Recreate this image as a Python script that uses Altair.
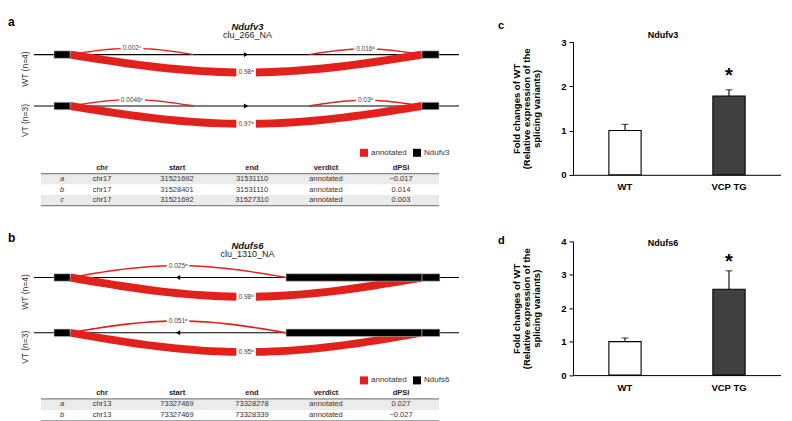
import altair as alt
import numpy as np
import pandas as pd

RED = "#e3211c"
FONT = "Liberation Sans"
SUP = {"a": "\u1d43", "b": "\u1d47", "c": "\u1d9c"}

# ---------------- panel a : Ndufv3 cluster ----------------
a_gene = "Ndufv3"
a_cluster = "clu_266_NA"
a_groups = ["WT (n=4)", "VT (n=3)"]
a_junction = ["a", "b", "c"]
a_chr = ["chr17", "chr17", "chr17"]
a_start = [31521692, 31528401, 31521692]
a_end = [31531110, 31531110, 31527310]
a_verdict = ["annotated", "annotated", "annotated"]
a_dpsi = [-0.017, 0.014, 0.003]
a_psi_wt = [0.98, 0.016, 0.002]
a_psi_vt = [0.97, 0.03, 0.0046]
a_exon_start = [31521610, 31531110]
a_exon_end = [31521692, 31531190]
a_strand = "+"
# intron compression used for display (genomic -> fraction of track width)
a_knots_g = [31521540, 31521610, 31521692, 31527310, 31528401, 31531110, 31531190, 31531260]
a_knots_d = [0.0, 0.047, 0.085, 0.376, 0.647, 0.913, 0.953, 1.0]

# ---------------- panel b : Ndufs6 cluster ----------------
b_gene = "Ndufs6"
b_cluster = "clu_1310_NA"
b_groups = ["WT (n=4)", "VT (n=3)"]
b_junction = ["a", "b"]
b_chr = ["chr13", "chr13"]
b_start = [73327469, 73327469]
b_end = [73328278, 73328339]
b_verdict = ["annotated", "annotated"]
b_dpsi = [0.027, -0.027]
b_psi_wt = [0.025, 0.98]
b_psi_vt = [0.051, 0.95]
b_exon_start = [73327390, 73328278, 73328339]
b_exon_end = [73327469, 73328339, 73328420]
b_strand = "-"
b_knots_g = [73327320, 73327390, 73327469, 73328278, 73328339, 73328420, 73328490]
b_knots_d = [0.0, 0.047, 0.085, 0.593, 0.913, 0.955, 1.0]

# ---------------- panels c, d : qPCR bars ----------------
bar_groups = ["WT", "VCP TG"]
c_gene = "Ndufv3"
c_mean = [1.0, 1.78]
c_sem = [0.14, 0.14]
c_star = 2.34
d_gene = "Ndufs6"
d_mean = [1.0, 2.57]
d_sem = [0.11, 0.55]
d_star = 3.54
Y_TITLE = ["Fold changes of WT", "(Relative expression of the", "splicing variants)"]

W_DIAG = 425
TABLE_COLS = ["", "chr", "start", "end", "verdict", "dPSI"]
TABLE_X = [28, 68, 143, 218, 292, 367]
TABLE_L, TABLE_R = 7, 405


def diag(gene, cluster, letter, groups, junction, starts, ends, psis_by_group,
         ex_s, ex_e, strand, kg, kd, ydom, height, letter_y, legend_y, gene_y, clu_y):
    D = lambda g: float(np.interp(g, kg, kd))
    ppu = height / (ydom[1] - ydom[0])
    track_y = [1.0, 0.0]
    yscale = alt.Scale(domain=list(ydom), nice=False, zero=False)
    xscale = alt.Scale(domain=[0, 1], nice=False, zero=False)
    lab_shift = 14.0 / ppu
    yaxis = alt.Axis(values=[1.0 - lab_shift, -lab_shift],
                     labelExpr=f"datum.value > 0.5 ? '{groups[0]}' : '{groups[1]}'",
                     labelAngle=270, labelAlign="center", labelBaseline="bottom",
                     labelFontSize=8.5, labelColor="#333", labelPadding=5,
                     domain=False, ticks=False, grid=False, title=None)

    def X(f):
        return alt.X(f, type="quantitative", scale=xscale, axis=None)

    def Y(f):
        return alt.Y(f, type="quantitative", scale=yscale, axis=yaxis)

    base = pd.DataFrame({"x0": [kd[0]] * 2, "x1": [kd[-1]] * 2, "track": track_y})

    ex_rows = []
    for ty in track_y:
        for s, e in zip(ex_s, ex_e):
            ex_rows.append(dict(x=D(s), x2=D(e), y=ty - 3.7 / ppu, y2=ty + 3.7 / ppu, kind=gene))
    exons = pd.DataFrame(ex_rows)

    arc_rows, lab_rows = [], []
    t = np.linspace(0, 1, 41)
    for ty, psis in zip(track_y, psis_by_group):
        pmax = max(psis)
        for j, s, e, p in zip(junction, starts, ends, psis):
            x0, x1 = D(s), D(e)
            side = -1.0 if p == pmax else 1.0
            h = 0.42 * (x1 - x0)
            xs = x0 + (x1 - x0) * t
            ys = ty + side * h * np.sin(np.pi * t)
            for k, (xx, yy) in enumerate(zip(xs, ys)):
                arc_rows.append(dict(id=f"{ty}-{j}", k=k, x=xx, y=yy, psi=p))
            label = f"{p:g}" + SUP[j]
            lw = (3.1 * len(label) + 4) / W_DIAG / 2
            sw = 1.3 + 6.8 * p
            lh = (max(sw, 5) + 3) / ppu / 2
            lx, ly = (x0 + x1) / 2, ty + side * h
            lab_rows.append(dict(x=lx, y=ly, bx=lx - lw, bx2=lx + lw, by=ly - lh, by2=ly + lh, label=label))
    arcs = pd.DataFrame(arc_rows)
    labs = pd.DataFrame(lab_rows)

    ax = (D(starts[0]) + D(ends[0])) / 2
    arrow = pd.DataFrame({"x": [ax, ax], "y": track_y})

    base_l = alt.Chart(base).mark_rule(color="black", strokeWidth=1.1).encode(
        x=X("x0"), x2="x1:Q", y=Y("track"))
    arc_l = alt.Chart(arcs).mark_line(color=RED, strokeCap="butt").encode(
        x=X("x"), y=Y("y"), detail="id:N", order="k:Q",
        size=alt.Size("psi:Q", scale=alt.Scale(domain=[0, 1], range=[1.3, 8.1]), legend=None))
    box_l = alt.Chart(labs).mark_rect(color="white").encode(
        x=X("bx"), x2="bx2:Q", y=Y("by"), y2="by2:Q")
    txt_l = alt.Chart(labs).mark_text(fontSize=6.5, color="#444").encode(
        x=X("x"), y=Y("y"), text="label:N")
    ex_l = alt.Chart(exons).mark_rect(stroke="#bdbdbd", strokeWidth=0.6).encode(
        x=X("x"), x2="x2:Q", y=Y("y"), y2="y2:Q",
        fill=alt.Fill("kind:N",
                      scale=alt.Scale(domain=["annotated", gene], range=[RED, "black"]),
                      legend=alt.Legend(orient="none", legendX=326, legendY=legend_y,
                                        direction="horizontal", title=None,
                                        symbolType="square", symbolSize=64,
                                        symbolStrokeWidth=0, labelFontSize=8,
                                        labelColor="#333", columnPadding=6, labelOffset=3)))
    arr_l = alt.Chart(arrow).mark_point(
        shape="triangle-right" if strand == "+" else "triangle-left",
        filled=True, color="black", size=24, opacity=1).encode(x=X("x"), y=Y("y"))
    txt = pd.DataFrame({"t": [letter], "g": [gene], "c": [cluster]})
    let_l = alt.Chart(txt).mark_text(
        fontSize=12, fontWeight="bold", align="left", baseline="middle", color="black").encode(
        text="t:N", x=alt.value(-26), y=alt.value(letter_y))
    gene_l = alt.Chart(txt).mark_text(
        fontSize=9.5, fontWeight="bold", fontStyle="italic", align="center", baseline="middle",
        color="#111").encode(text="g:N", x=alt.value(W_DIAG / 2 + 1), y=alt.value(gene_y))
    clu_l = alt.Chart(txt).mark_text(
        fontSize=9, align="center", baseline="middle", color="#222").encode(
        text="c:N", x=alt.value(W_DIAG / 2 + 1), y=alt.value(clu_y))

    return alt.layer(base_l, arc_l, box_l, txt_l, ex_l, arr_l, let_l, gene_l, clu_l).properties(
        width=W_DIAG, height=height)


def table(junction, chrs, starts, ends, verdicts, dpsi, row_h):
    rows = ["hdr"] + list(junction)
    yscale = alt.Scale(domain=rows, paddingInner=0, paddingOuter=0)
    xscale = alt.Scale(domain=list(range(len(TABLE_COLS))), range=TABLE_X, nice=False, zero=False)
    head = pd.DataFrame({"row": ["hdr"] * 5, "c": list(range(1, 6)), "txt": TABLE_COLS[1:]})
    body, lets = [], []
    for i, j in enumerate(junction):
        vals = [chrs[i], str(starts[i]), str(ends[i]), verdicts[i],
                f"{dpsi[i]:.3f}".replace("-", "\u2212")]
        for c, v in enumerate(vals, start=1):
            body.append(dict(row=j, c=c, txt=v))
        lets.append(dict(row=j, c=0, txt=j))
    body = pd.DataFrame(body)
    lets = pd.DataFrame(lets)
    shade = pd.DataFrame({"row": list(junction)[0::2]})

    def Yb(bp=None):
        if bp is None:
            return alt.Y("row:N", scale=yscale, axis=None)
        return alt.Y("row:N", scale=yscale, axis=None, bandPosition=bp)

    Xc = alt.X("c:Q", scale=xscale, axis=None)
    shade_l = alt.Chart(shade).mark_rect(color="#ebebeb").encode(
        y=Yb(), x=alt.value(TABLE_L), x2=alt.value(TABLE_R))
    top_l = alt.Chart(pd.DataFrame({"row": [junction[0]]})).mark_rule(
        color="#858585", strokeWidth=1.2).encode(y=Yb(0), x=alt.value(TABLE_L), x2=alt.value(TABLE_R))
    bot_l = alt.Chart(pd.DataFrame({"row": [junction[-1]]})).mark_rule(
        color="#858585", strokeWidth=1.2).encode(y=Yb(1), x=alt.value(TABLE_L), x2=alt.value(TABLE_R))
    head_l = alt.Chart(head).mark_text(fontSize=7.5, fontWeight="bold", color="#222").encode(
        x=Xc, y=Yb(), text="txt:N")
    body_l = alt.Chart(body).mark_text(fontSize=7.5, color="#333").encode(
        x=Xc, y=Yb(), text="txt:N")
    let_l = alt.Chart(lets).mark_text(fontSize=7.5, fontStyle="italic", color="#333").encode(
        x=Xc, y=Yb(), text="txt:N")
    return alt.layer(shade_l, top_l, bot_l, head_l, body_l, let_l).properties(
        width=W_DIAG, height=row_h * len(rows))


W_BAR = 208


def bars(letter, gene, means, sems, star_val, ymax, height, letter_y, title_y, spacer_y=None):
    df = pd.DataFrame({"group": bar_groups, "mean": means,
                       "top": [m + s for m, s in zip(means, sems)]})
    xenc = alt.X("group:N", sort=bar_groups,
                 scale=alt.Scale(paddingInner=0.69, paddingOuter=0.345),
                 axis=alt.Axis(title=None, labelAngle=0, labelFontWeight="bold",
                               labelFontSize=9.5, labelColor="black", ticks=False,
                               domainColor="black", domainWidth=1, labelPadding=7))
    yscale = alt.Scale(domain=[0, ymax], nice=False, zero=True)
    yaxis = alt.Axis(values=list(range(ymax + 1)), format="d", title=Y_TITLE,
                     titleFontWeight="bold", titleFontSize=9.5, titleLineHeight=10,
                     titleColor="black", titlePadding=19, labelFontWeight="bold",
                     labelFontSize=9.5, labelColor="black", tickSize=4, tickColor="black",
                     domainColor="black", grid=False, labelPadding=3)

    def Y(f):
        return alt.Y(f, type="quantitative", scale=yscale, axis=yaxis)

    bar_l = alt.Chart(df).mark_bar(stroke="black", strokeWidth=1.1).encode(
        x=xenc, y=Y("mean"),
        fill=alt.Fill("group:N", scale=alt.Scale(domain=bar_groups, range=["white", "#404040"]),
                      legend=None))
    err_l = alt.Chart(df).mark_rule(color="black", strokeWidth=1.1).encode(
        x=xenc, y=Y("mean"), y2="top:Q")
    cap_l = alt.Chart(df).mark_tick(color="black", thickness=1.1, size=7).encode(
        x=xenc, y=Y("top"))
    star_l = alt.Chart(pd.DataFrame({"group": [bar_groups[1]], "s": [star_val]})).mark_text(
        text="*", fontSize=20, fontWeight="bold", baseline="alphabetic", dy=11, color="black").encode(
        x=xenc, y=Y("s"))
    txt = pd.DataFrame({"t": [letter], "g": [gene]})
    let_l = alt.Chart(txt).mark_text(fontSize=11, fontWeight="bold", align="left",
                                     baseline="middle", color="black").encode(
        text="t:N", x=alt.value(-75), y=alt.value(letter_y))
    gt_l = alt.Chart(txt).mark_text(fontSize=9, fontWeight="bold", align="center",
                                    baseline="middle", color="black").encode(
        text="g:N", x=alt.value(W_BAR * 0.433), y=alt.value(title_y))
    layers = [bar_l, err_l, cap_l, star_l, let_l, gt_l]
    if spacer_y is not None:
        sp_l = alt.Chart(txt).mark_text(fontSize=11, align="left", baseline="top",
                                        opacity=0).encode(
            text="t:N", x=alt.value(-75), y=alt.value(spacer_y))
        layers.append(sp_l)
    return alt.layer(*layers).properties(width=W_BAR, height=height)


diag_a = diag(a_gene, a_cluster, "a", a_groups, a_junction, a_start, a_end,
              [a_psi_wt, a_psi_vt], a_exon_start, a_exon_end, a_strand,
              a_knots_g, a_knots_d, (-1.103, 1.245), 120.7, -20.3, 106.8, -15.5, -6.7)
table_a = table(a_junction, a_chr, a_start, a_end, a_verdict, a_dpsi, 10.66)
diag_b = diag(b_gene, b_cluster, "b", b_groups, b_junction, b_start, b_end,
              [b_psi_wt, b_psi_vt], b_exon_start, b_exon_end, b_strand,
              b_knots_g, b_knots_d, (-0.986, 1.262), 124.3, -25.3, 113.4, -17.5, -8.8)
table_b = table(b_junction, b_chr, b_start, b_end, b_verdict, b_dpsi, 10.95)

ind = dict(fill="independent", size="independent")
block_a = alt.vconcat(diag_a, table_a, spacing=0).resolve_scale(**ind)
block_b = alt.vconcat(diag_b, table_b, spacing=0).resolve_scale(**ind)
left = alt.vconcat(block_a, block_b, spacing=24).resolve_scale(**ind)

bar_c = bars("c", c_gene, c_mean, c_sem, c_star, 3, 132.8, -16.4, -6.8, spacer_y=-33.2)
bar_d = bars("d", d_gene, d_mean, d_sem, d_star, 4, 133.7, 0, 1.9)
right = alt.vconcat(bar_c, bar_d, spacing=43.4).resolve_scale(**ind)

chart = alt.hconcat(left, right, spacing=38).resolve_scale(**ind).properties(
    padding=0).configure(font=FONT).configure_view(stroke=None)

chart.save("out.html", embed_options={"renderer": "svg", "actions": False})
